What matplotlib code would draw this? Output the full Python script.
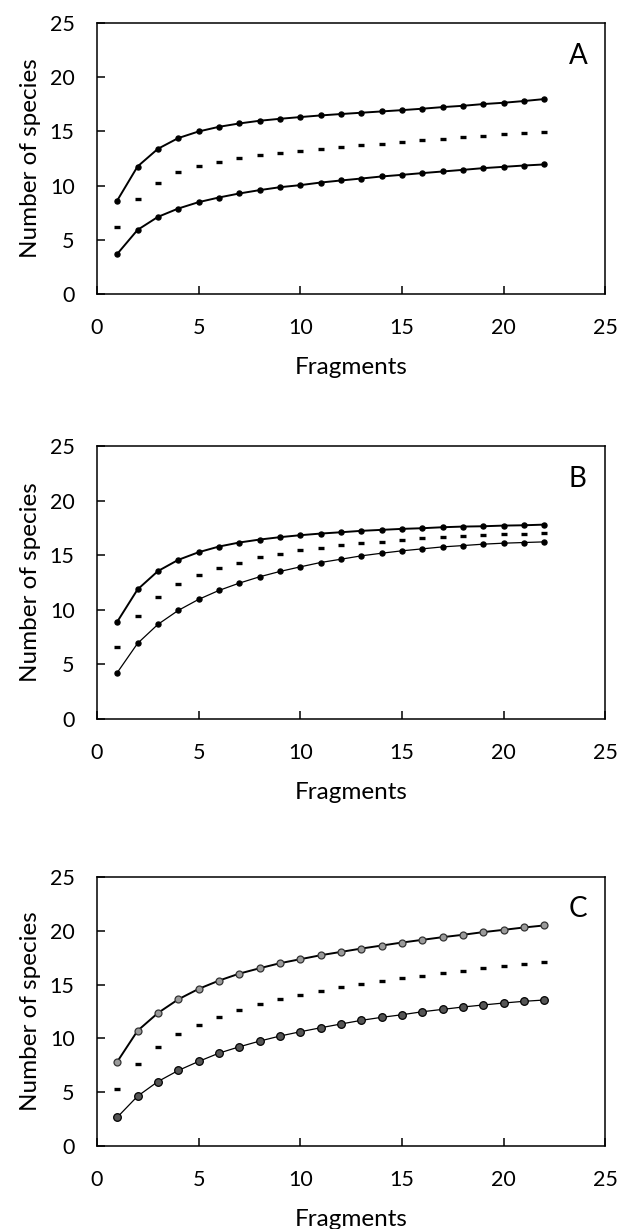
import numpy as np
import matplotlib
matplotlib.use("Agg")
import matplotlib.pyplot as plt

plt.rcParams['font.family'] = ['Lato', 'DejaVu Sans']

# Fragment counts (x axis)
fragments = np.arange(1, 23)

# Panel A: upper bound, mean, lower bound
a_upper = [8.62, 11.76, 13.39, 14.38, 14.99, 15.42, 15.73, 15.98, 16.16, 16.32, 16.47,
           16.60, 16.72, 16.84, 16.96, 17.09, 17.24, 17.36, 17.52, 17.64, 17.80, 17.98]
a_mean = [6.16, 8.77, 10.25, 11.21, 11.79, 12.16, 12.50, 12.81, 13.02, 13.21, 13.42,
          13.58, 13.73, 13.85, 14.01, 14.16, 14.32, 14.44, 14.59, 14.72, 14.84, 14.96]
a_lower = [3.69, 5.91, 7.11, 7.88, 8.47, 8.90, 9.27, 9.58, 9.85, 10.04, 10.28,
           10.47, 10.65, 10.84, 10.99, 11.15, 11.30, 11.45, 11.61, 11.73, 11.85, 11.95]

# Panel B
b_upper = [8.90, 11.86, 13.54, 14.57, 15.27, 15.79, 16.16, 16.43, 16.65, 16.83, 16.98,
           17.10, 17.23, 17.32, 17.41, 17.47, 17.56, 17.62, 17.65, 17.71, 17.74, 17.80]
b_mean = [6.62, 9.39, 11.19, 12.32, 13.14, 13.81, 14.33, 14.79, 15.12, 15.43, 15.70,
          15.91, 16.10, 16.25, 16.43, 16.55, 16.68, 16.77, 16.86, 16.92, 16.98, 17.01]
b_lower = [4.24, 6.92, 8.66, 9.94, 10.95, 11.77, 12.44, 13.02, 13.51, 13.93, 14.33,
           14.63, 14.94, 15.18, 15.40, 15.58, 15.76, 15.88, 16.01, 16.10, 16.16, 16.22]

# Panel C
c_upper = [7.83, 10.71, 12.36, 13.63, 14.60, 15.37, 16.02, 16.52, 16.99, 17.36, 17.73,
           18.04, 18.35, 18.63, 18.91, 19.16, 19.41, 19.63, 19.88, 20.09, 20.31, 20.50]
c_mean = [5.31, 7.67, 9.19, 10.37, 11.27, 12.02, 12.64, 13.20, 13.66, 14.04, 14.41,
          14.75, 15.06, 15.34, 15.59, 15.84, 16.09, 16.30, 16.52, 16.71, 16.89, 17.08]
c_lower = [2.67, 4.63, 5.99, 7.02, 7.86, 8.63, 9.22, 9.75, 10.22, 10.62, 10.99,
           11.34, 11.68, 11.96, 12.20, 12.48, 12.70, 12.92, 13.11, 13.29, 13.45, 13.57]

panel_letters = ["A", "B", "C"]

fig = plt.figure(figsize=(6.17, 12.29), dpi=100)

# axes boxes [left, bottom, width, height] in figure fraction
boxes = [
    [0.157, 0.7608, 0.824, 0.2205],
    [0.157, 0.4150, 0.824, 0.2221],
    [0.157, 0.0675, 0.824, 0.2189],
]

panels = [
    (a_upper, a_mean, a_lower),
    (b_upper, b_mean, b_lower),
    (c_upper, c_mean, c_lower),
]

for i, (box, (up, mean, low)) in enumerate(zip(boxes, panels)):
    ax = fig.add_axes(box)

    if i < 2:
        # small black dots
        ax.plot(fragments, up, color='black', lw=1.4, marker='o', ms=3.6,
                mfc='black', mec='black')
        ax.plot(fragments, low, color='black', lw=1.4 if i == 0 else 0.9,
                marker='o', ms=3.6, mfc='black', mec='black')
    else:
        # grey filled circles
        ax.plot(fragments, up, color='black', lw=1.4, marker='o', ms=5,
                mfc='#9a9a9a', mec='#333333', mew=0.9)
        ax.plot(fragments, low, color='black', lw=0.9, marker='o', ms=5.5,
                mfc='#555555', mec='black', mew=0.9)

    # mean as short dashes, one per fragment
    ax.plot(fragments, mean, ls='none', marker='_', ms=4.2, mew=2.4, color='black')

    ax.set_xlim(0, 25)
    ax.set_ylim(0, 25)
    ax.set_xticks([0, 5, 10, 15, 20, 25])
    ax.set_yticks([0, 5, 10, 15, 20, 25])
    ax.tick_params(direction='in', length=5.5, width=1.1, labelsize=15.5)
    ax.tick_params(axis='y', pad=16)
    ax.tick_params(axis='x', pad=17)
    for s in ax.spines.values():
        s.set_linewidth(1.1)

    ax.set_xlabel("Fragments", fontsize=17.5, labelpad=14)
    ax.set_ylabel("Number of species", fontsize=17.5, labelpad=6)
    ax.text(0.946, 0.88, panel_letters[i], transform=ax.transAxes,
            fontsize=20, ha='center', va='center')

fig.savefig("out.png", dpi=100)
